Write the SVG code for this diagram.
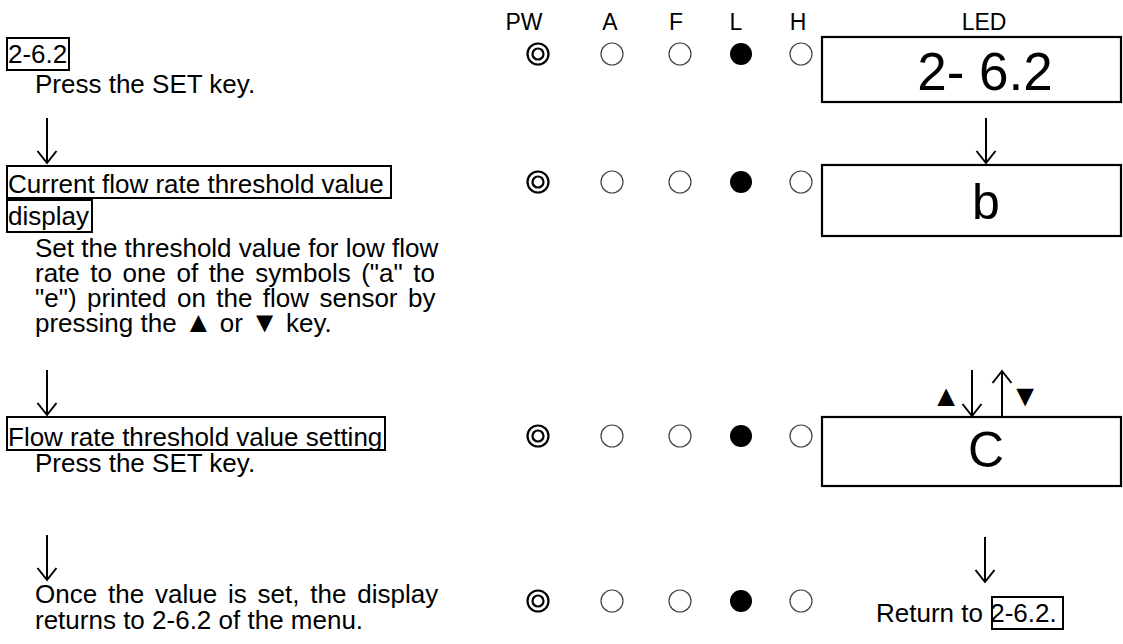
<svg xmlns="http://www.w3.org/2000/svg" width="1123" height="644" viewBox="0 0 1123 644">
<style>
text{font-family:"Liberation Sans",Arial,sans-serif;fill:#000}
.t{font-size:26px}
.h{font-size:23px;text-anchor:middle}
.box{fill:none;stroke:#000;stroke-width:2}
.led{fill:#fff;stroke:#000;stroke-width:2.2}
.o{fill:#fff;stroke:#444;stroke-width:1.2}
.f{fill:#000}
.dd{fill:none;stroke:#000;stroke-width:2.2}
.arr{fill:none;stroke:#000;stroke-width:2}
.big{text-anchor:middle}
.tri{font-size:29px}
</style>
<defs>
<g id="ind">
<circle cx="538" cy="0" r="10.5" class="dd"/>
<circle cx="538" cy="0" r="5.5" class="dd"/>
<circle cx="612" cy="0" r="11" class="o"/>
<circle cx="680" cy="0" r="11" class="o"/>
<circle cx="741" cy="0" r="11" class="f"/>
<circle cx="801" cy="0" r="11" class="o"/>
</g>
</defs>
<g id="header">
<text class="h" x="524" y="30">PW</text>
<text class="h" x="610" y="30">A</text>
<text class="h" x="676" y="30">F</text>
<text class="h" x="736" y="30">L</text>
<text class="h" x="798" y="30">H</text>
<text class="h" x="984" y="30">LED</text>
</g>
<g id="step1">
<rect class="box" x="7" y="38" width="62" height="32"/>
<text class="t" x="8" y="63">2-6.2</text>
<text class="t" x="35" y="93">Press the SET key.</text>
<use href="#ind" y="54"/>
<rect class="led" x="822" y="37" width="299" height="65"/>
<text class="big" x="985" y="90" font-size="53">2- 6.2</text>
</g>
<g id="step2">
<rect class="box" x="7" y="166" width="384" height="32"/>
<text class="t" x="8" y="193">Current flow rate threshold value </text>
<rect class="box" x="7" y="200" width="85" height="32"/>
<text class="t" x="8" y="225">display</text>
<text class="t" x="35" y="257">Set the threshold value for low flow</text>
<text class="t" x="35" y="282" word-spacing="3.3">rate to one of the symbols ("a" to</text>
<text class="t" x="35" y="307" word-spacing="3.2">"e") printed on the flow sensor by</text>
<text class="t" x="35" y="332">pressing the <tspan class="tri">▲</tspan> or <tspan class="tri">▼</tspan> key.</text>
<use href="#ind" y="182"/>
<rect class="led" x="822" y="165" width="299" height="71"/>
<text class="big" x="986" y="219" font-size="50">b</text>
</g>
<g id="step3">
<rect class="box" x="7" y="417" width="378" height="33"/>
<text class="t" x="8" y="446">Flow rate threshold value setting</text>
<text class="t" x="35" y="472">Press the SET key.</text>
<use href="#ind" y="436"/>
<rect class="led" x="822" y="417" width="299" height="69"/>
<text class="big" x="986" y="467" font-size="50">C</text>
<text x="946" y="406" font-size="30" text-anchor="middle">▲</text>
<text x="1025" y="406" font-size="30" text-anchor="middle">▼</text>
</g>
<g id="step4">
<text class="t" x="35" y="603" word-spacing="3.6">Once the value is set, the display</text>
<text class="t" x="35" y="629">returns to 2-6.2 of the menu.</text>
<use href="#ind" y="601"/>
<text class="t" x="876" y="622">Return to 2-6.2.</text>
<rect class="box" x="992" y="597" width="71" height="32"/>
</g>
<g id="connectors">
<path class="arr" d="M47 118V163M37.5 151L47 163L56.5 151"/>
<path class="arr" d="M986 118V163M976.5 151L986 163L995.5 151"/>
<path class="arr" d="M47 370V415M37.5 403L47 415L56.5 403"/>
<path class="arr" d="M972 370V416M962.5 404L972 416L981.5 404"/>
<path class="arr" d="M1002 417V371M992.5 383L1002 371L1011.5 383"/>
<path class="arr" d="M47 535V580M37.5 568L47 580L56.5 568"/>
<path class="arr" d="M985 537V582M975.5 570L985 582L994.5 570"/>
</g>
</svg>
